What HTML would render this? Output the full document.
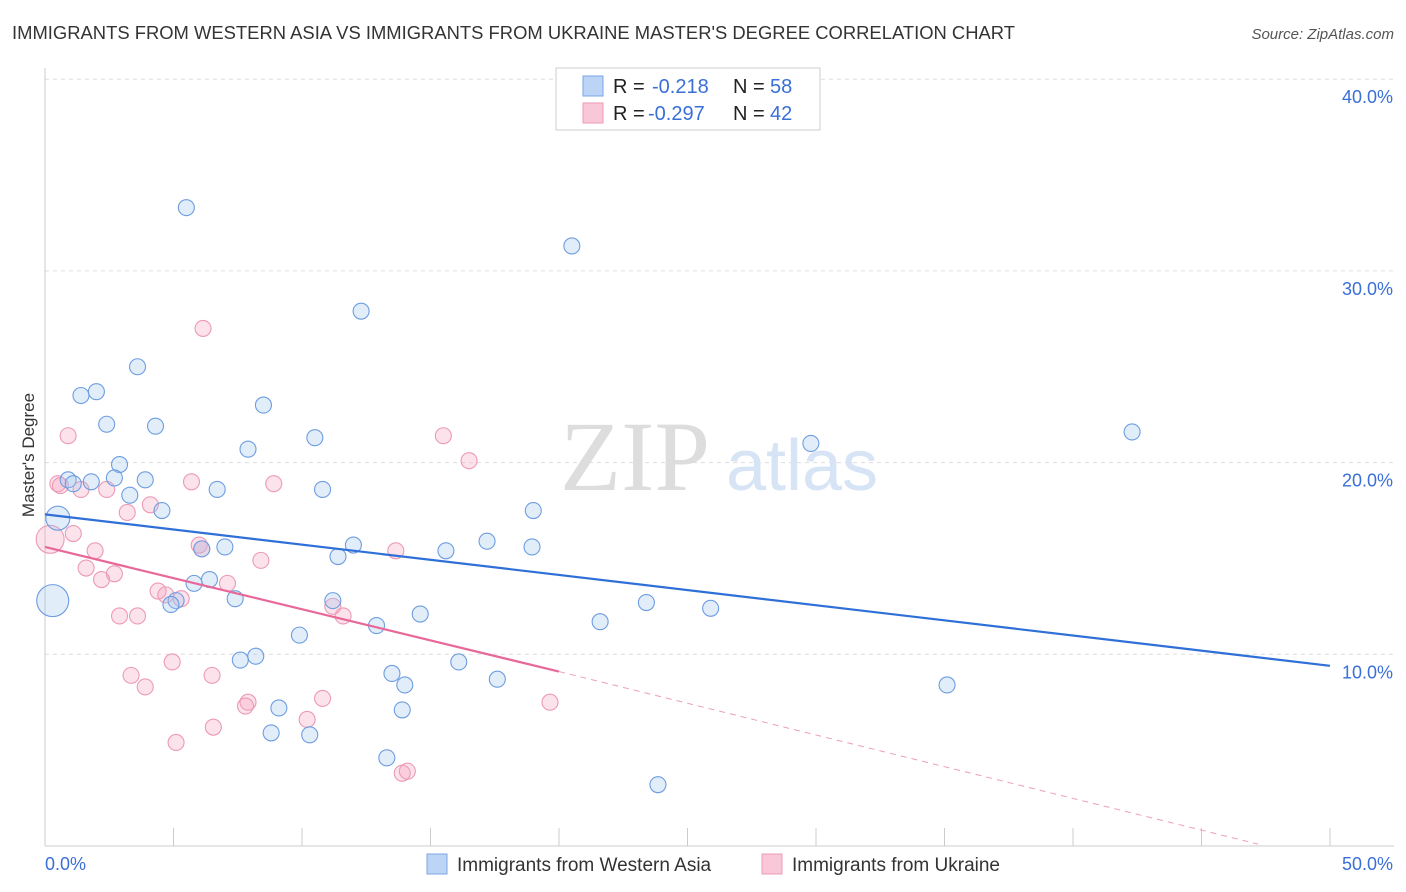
<!DOCTYPE html>
<html><head><meta charset="utf-8">
<style>
body{margin:0;background:#fff;font-family:"Liberation Sans",sans-serif;}
svg{display:block}
</style></head>
<body>
<svg id="chart" width="1406" height="892">
<text x="12" y="39" font-size="18" fill="#333" textLength="1003" lengthAdjust="spacingAndGlyphs">IMMIGRANTS FROM WESTERN ASIA VS IMMIGRANTS FROM UKRAINE MASTER'S DEGREE CORRELATION CHART</text>
<text x="1394" y="39" font-size="15" fill="#555" font-style="italic" text-anchor="end">Source: ZipAtlas.com</text>
<g id="grid"></g>
<text x="635" y="490" font-size="100" fill="#ddd" font-family="Liberation Serif,serif" text-anchor="middle">ZIP</text>
<text x="802" y="490" font-size="72" fill="#d6e4f5" text-anchor="middle">atlas</text>
<g id="pts"></g>
<g id="lines"></g>
<text transform="translate(34,455) rotate(-90)" font-size="17" fill="#333" text-anchor="middle">Master's Degree</text>
<text x="45" y="870" font-size="18" fill="#3a6fd8">0.0%</text>
<text x="1393" y="870" font-size="18" fill="#3a6fd8" text-anchor="end">50.0%</text>
<g>
<rect x="556" y="68" width="264" height="62" fill="#fff" stroke="#ccc"/>
<rect x="583" y="76" width="20" height="20" fill="#bcd4f5" stroke="#7aa6e6"/>
<rect x="583" y="103" width="20" height="20" fill="#f9c8d8" stroke="#ee99b6"/>
<text x="613" y="93" font-size="20" fill="#222">R =</text>
<text x="652" y="93" font-size="20" fill="#3a6fd8">-0.218</text>
<text x="733" y="93" font-size="20" fill="#222">N =</text>
<text x="770" y="93" font-size="20" fill="#3a6fd8">58</text>
<text x="613" y="120" font-size="20" fill="#222">R =</text>
<text x="648" y="120" font-size="20" fill="#3a6fd8">-0.297</text>
<text x="733" y="120" font-size="20" fill="#222">N =</text>
<text x="770" y="120" font-size="20" fill="#3a6fd8">42</text>
</g>
<g>
<rect x="427" y="854" width="20" height="20" fill="#bcd4f5" stroke="#7aa6e6"/>
<text x="457" y="871" font-size="19" fill="#333">Immigrants from Western Asia</text>
<rect x="762" y="854" width="20" height="20" fill="#f9c8d8" stroke="#ee99b6"/>
<text x="792" y="871" font-size="19" fill="#333">Immigrants from Ukraine</text>
</g>
</svg>
<script>
const yTicks=[10,20,30,40];
const yTickLabels=["10.0%","20.0%","30.0%","40.0%"];
const xTicks=[0,5,10,15,20,25,30,35,40,45,50];
const blueX=[5.5,20.5,12.3,3.6,2.0,1.4,8.5,2.4,4.3,7.9,10.5,29.8,42.3,2.9,0.9,1.1,1.8,2.7,3.9,6.7,10.8,3.3,4.55,19.0,0.5,17.2,12.0,7.0,6.1,15.6,18.95,11.4,6.4,5.8,7.4,5.1,4.9,11.2,23.4,25.9,14.6,12.9,21.6,9.9,0.3,8.2,7.6,16.1,13.5,17.6,14.0,35.1,9.1,13.9,8.8,10.3,13.3,23.85];
const blueY=[33.3,31.3,27.9,25.0,23.7,23.5,23.0,22.0,21.9,20.7,21.3,21.0,21.6,19.9,19.1,18.9,19.0,19.2,19.1,18.6,18.6,18.3,17.5,17.5,17.1,15.9,15.7,15.6,15.5,15.4,15.6,15.1,13.9,13.7,12.9,12.8,12.6,12.8,12.7,12.4,12.1,11.5,11.7,11.0,12.8,9.9,9.7,9.6,9.0,8.7,8.4,8.4,7.2,7.1,5.9,5.8,4.6,3.2];
const blueR=[8,8,8,8,8,8,8,8,8,8,8,8,8,8,8,8,8,8,8,8,8,8,8,8,12,8,8,8,8,8,8,8,8,8,8,8,8,8,8,8,8,8,8,8,16,8,8,8,8,8,8,8,8,8,8,8,8,8];
const pinkX=[6.15,0.9,15.5,16.5,0.5,0.6,1.4,2.4,5.7,8.9,4.1,3.2,1.1,1.95,0.2,6.0,6.1,13.65,8.4,1.6,2.7,2.2,7.1,4.4,4.7,5.3,11.2,11.6,2.9,3.6,4.95,3.35,6.5,3.9,7.9,7.8,10.8,19.65,10.2,6.55,5.1,13.9,14.1];
const pinkY=[27.0,21.4,21.4,20.1,18.9,18.8,18.6,18.6,19.0,18.9,17.8,17.4,16.3,15.4,16.0,15.7,15.5,15.4,14.9,14.5,14.2,13.9,13.7,13.3,13.1,12.9,12.5,12.0,12.0,12.0,9.6,8.9,8.9,8.3,7.5,7.3,7.7,7.5,6.6,6.2,5.4,3.8,3.9];
const pinkR=[8,8,8,8,8,8,8,8,8,8,8,8,8,8,14,8,8,8,8,8,8,8,8,8,8,8,8,8,8,8,8,8,8,8,8,8,8,8,8,8,8,8,8];
const blueLine=[[0,17.3],[50,9.4]];
const pinkLine=[[0,15.6],[20,9.1]];
const pinkDash=[[20,9.1],[47.2,0.1]];

const sx=v=>45+v*25.7, sy=v=>846-v*19.17;
const NS="http://www.w3.org/2000/svg";
function mk(tag,attrs,parent){const e=document.createElementNS(NS,tag);for(const k in attrs)e.setAttribute(k,attrs[k]);parent.appendChild(e);return e;}
const grid=document.getElementById('grid');
yTicks.forEach((t,i)=>{
  const l=mk('line',{x1:45,x2:1394,y1:sy(t),y2:sy(t),stroke:'#ddd','stroke-dasharray':'4,4'},grid);
  
  
  const tx=mk('text',{x:1393,y:sy(t)+24,'font-size':18,fill:'#3a6fd8','text-anchor':'end'},grid);
  tx.textContent=yTickLabels[i];
  
  
});
const ax=mk('line',{x1:45,x2:1394,y1:846,y2:846,stroke:'#ccc'},grid);


const ay=mk('line',{x1:45,x2:45,y1:68,y2:846,stroke:'#ccc'},grid);


xTicks.forEach(t=>{
  const l=mk('line',{x1:sx(t),x2:sx(t),y1:828,y2:846,stroke:'#ccc'},grid);
  
  
});
const pts=document.getElementById('pts');
pinkX.forEach((x,i)=>{
  const c=mk('circle',{cx:sx(x),cy:sy(pinkY[i]),r:pinkR[i],fill:'rgba(244,160,190,0.3)',stroke:'#ec9ab6','stroke-width':1.1},pts);
  
  
});
blueX.forEach((x,i)=>{
  const c=mk('circle',{cx:sx(x),cy:sy(blueY[i]),r:blueR[i],fill:'rgba(160,195,240,0.3)',stroke:'#6d9de0','stroke-width':1.1},pts);
  
  
});
const lines=document.getElementById('lines');
const bl=mk('line',{x1:sx(blueLine[0][0]),y1:sy(blueLine[0][1]),x2:sx(blueLine[1][0]),y2:sy(blueLine[1][1]),stroke:'#2f6fd8','stroke-width':2.2},lines);


const pl=mk('line',{x1:sx(pinkLine[0][0]),y1:sy(pinkLine[0][1]),x2:sx(pinkLine[1][0]),y2:sy(pinkLine[1][1]),stroke:'#e8689a','stroke-width':2.2},lines);


const pd=mk('line',{x1:sx(pinkDash[0][0]),y1:sy(pinkDash[0][1]),x2:sx(pinkDash[1][0]),y2:sy(pinkDash[1][1]),stroke:'#eaa0bb','stroke-width':1,'stroke-dasharray':'6,5'},lines);


</script>
</body></html>
